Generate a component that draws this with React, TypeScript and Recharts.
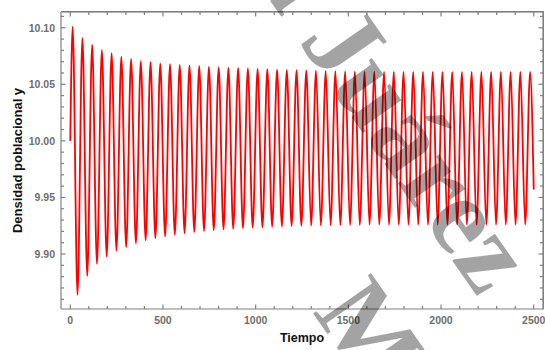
import React from 'react';
import { LineChart, Line, XAxis, YAxis } from 'recharts';

// ---- data (extrema of the oscillation) ----
const startTime = 0;
const startValue = 10.0;
const endTime = 2500;
const endValue = 9.957;

const peakTimes = [
  13, 65.5, 118, 170.5, 223, 275.5, 328, 380.5, 433, 485.5, 538, 590.5, 643, 695.5, 748, 800.5,
  853, 905.5, 958, 1010.5, 1063, 1115.5, 1168, 1220.5, 1273, 1325.5, 1378, 1430.5, 1483, 1535.5,
  1588, 1640.5, 1693, 1745.5, 1798, 1850.5, 1903, 1955.5, 2008, 2060.5, 2113, 2165.5, 2218,
  2270.5, 2323, 2375.5, 2428, 2480.5,
];
const peakValues = [
  10.101, 10.091, 10.085, 10.0805, 10.0775, 10.0745, 10.0725, 10.0705, 10.0695, 10.0685, 10.0678,
  10.0672, 10.0667, 10.0662, 10.0657, 10.0652, 10.0648, 10.0644, 10.064, 10.0636, 10.0633, 10.063,
  10.0627, 10.0624, 10.0622, 10.062, 10.0618, 10.0616, 10.0614, 10.0613, 10.0612, 10.0611,
  10.061, 10.061, 10.061, 10.061, 10.061, 10.061, 10.061, 10.061, 10.061, 10.061, 10.061, 10.061,
  10.061, 10.061, 10.061, 10.061,
];
const troughTimes = [
  39, 91.5, 144, 196.5, 249, 301.5, 354, 406.5, 459, 511.5, 564, 616.5, 669, 721.5, 774, 826.5,
  879, 931.5, 984, 1036.5, 1089, 1141.5, 1194, 1246.5, 1299, 1351.5, 1404, 1456.5, 1509, 1561.5,
  1614, 1666.5, 1719, 1771.5, 1824, 1876.5, 1929, 1981.5, 2034, 2086.5, 2139, 2191.5, 2244,
  2296.5, 2349, 2401.5, 2454,
];
const troughValues = [
  9.8638, 9.8806, 9.8912, 9.8977, 9.903, 9.906, 9.9095, 9.9122, 9.914, 9.9155, 9.917, 9.9183,
  9.9195, 9.9203, 9.921, 9.9217, 9.9222, 9.9227, 9.9232, 9.9236, 9.924, 9.9243, 9.9246, 9.9249,
  9.9251, 9.9253, 9.9255, 9.9256, 9.9257, 9.9258, 9.9259,
  9.926, 9.926, 9.926, 9.926, 9.926, 9.926, 9.926, 9.926, 9.926, 9.926, 9.926, 9.926, 9.926,
  9.926, 9.926, 9.926,
];

// ---- ticks ----
const xMajorTicks = [0, 500, 1000, 1500, 2000, 2500];
const xTickLabels = ['0', '500', '1000', '1500', '2000', '2500'];
const xMinorTicks = [
  100, 200, 300, 400, 600, 700, 800, 900, 1100, 1200, 1300, 1400, 1600, 1700, 1800, 1900, 2100,
  2200, 2300, 2400,
];
const yMajorTicks = [9.9, 9.95, 10.0, 10.05, 10.1];
const yTickLabels = ['9.90', '9.95', '10.00', '10.05', '10.10'];
const yMinorTicks = [
  9.86, 9.87, 9.88, 9.89, 9.91, 9.92, 9.93, 9.94, 9.96, 9.97, 9.98, 9.99, 10.01, 10.02, 10.03,
  10.04, 10.06, 10.07, 10.08, 10.09, 10.11,
];

const xTitle = 'Tiempo';
const yTitle = 'Densidad poblacional y';
const watermarkLine1 = 'Ciudad Juárez';
const watermarkLine2 = 'México';

// build the table for the chart
const points: { t: number; y: number }[] = [{ t: startTime, y: startValue }];
peakTimes.forEach((t, i) => points.push({ t, y: peakValues[i] }));
troughTimes.forEach((t, i) => points.push({ t, y: troughValues[i] }));
points.push({ t: endTime, y: endValue });
points.sort((a, b) => a.t - b.t);

const xTicksAll = [...xMajorTicks, ...xMinorTicks].sort((a, b) => a - b);
const yTicksAll = [...yMajorTicks, ...yMinorTicks].sort((a, b) => a - b);

const W = 545;
const H = 350;
const Y_AXIS_W = 61;
const X_AXIS_H = 41;
const MARGIN = { top: 12, right: 2, bottom: 0, left: 0 };
const PLOT_LEFT = MARGIN.left + Y_AXIS_W;
const PLOT_TOP = MARGIN.top;
const PLOT_RIGHT = W - MARGIN.right;
const PLOT_BOTTOM = H - MARGIN.bottom - X_AXIS_H;

const FRAME = '#808080';
const TICK_TEXT = '#6e6e6e';
const SANS = '"Liberation Sans", Arial, sans-serif';
const SERIF = '"Liberation Serif", "Times New Roman", serif';

const majorIdx = (arr: number[], v: number) => arr.findIndex((m) => Math.abs(m - v) < 1e-6);

// bottom axis tick: inward mark at bottom + matching mark on the top frame edge
const BottomTick = (props: any) => {
  const { x, y, payload } = props;
  const i = majorIdx(xMajorTicks, payload.value);
  const len = i >= 0 ? 4.5 : 3;
  return (
    <g>
      <rect x={x - 0.6} y={y - len} width={1.2} height={len} fill={FRAME} />
      <rect x={x - 0.6} y={PLOT_TOP} width={1.2} height={len} fill={FRAME} />
      {i >= 0 && (
        <text x={x} y={y + 14.5} textAnchor="middle" fontFamily={SANS} fontWeight="bold" fontSize={10.5} fill={TICK_TEXT}>
          {xTickLabels[i]}
        </text>
      )}
    </g>
  );
};
// left axis tick: inward mark at left + matching mark on the right frame edge
const LeftTick = (props: any) => {
  const { x, y, payload } = props;
  const i = majorIdx(yMajorTicks, payload.value);
  const len = i >= 0 ? 4.5 : 3;
  return (
    <g>
      <rect x={x} y={y - 0.6} width={len} height={1.2} fill={FRAME} />
      <rect x={PLOT_RIGHT - len} y={y - 0.6} width={len} height={1.2} fill={FRAME} />
      {i >= 0 && (
        <text x={x - 6} y={y + 3.8} textAnchor="end" fontFamily={SANS} fontWeight="bold" fontSize={10.5} fill={TICK_TEXT}>
          {yTickLabels[i]}
        </text>
      )}
    </g>
  );
};

const XTitle = (props: any) => {
  const vb = props.viewBox || {};
  return (
    <text x={vb.x + vb.width / 2} y={vb.y + 32.5} textAnchor="middle" fontFamily={SANS} fontWeight="bold" fontSize={12.5} fill="#111">
      {xTitle}
    </text>
  );
};
const YTitle = (props: any) => {
  const vb = props.viewBox || {};
  const cx = 22;
  const cy = vb.y + vb.height / 2;
  return (
    <text x={cx} y={cy} transform={`rotate(-90 ${cx} ${cy})`} textAnchor="middle" fontFamily={SANS} fontWeight="bold" fontSize={13} fill="#111">
      {yTitle}
    </text>
  );
};

export default function App() {
  const xDomain: [number, number] = [-50, 2550];
  const yDomain: [number, number] = [9.8514, 10.1139];
  return (
    <div style={{ position: 'absolute', left: 0, top: 0, width: W, height: H, background: '#fff' }}>
      <div
        style={{
          position: 'absolute',
          left: PLOT_LEFT,
          top: PLOT_TOP - 0.6,
          width: PLOT_RIGHT - PLOT_LEFT + 0.6,
          height: PLOT_BOTTOM - PLOT_TOP + 0.6,
          borderTop: `1.2px solid ${FRAME}`,
          borderRight: `1.2px solid ${FRAME}`,
          boxSizing: 'border-box',
        }}
      />
      <LineChart width={W} height={H} data={points} margin={MARGIN}>
        <XAxis
          dataKey="t"
          type="number"
          domain={xDomain}
          allowDataOverflow
          ticks={xTicksAll}
          interval={0}
          height={X_AXIS_H}
          tickSize={0}
          tickMargin={0}
          tickLine={false}
          axisLine={{ stroke: FRAME, strokeWidth: 1.2 }}
          tick={BottomTick}
          label={<XTitle />}
        />
        <YAxis
          type="number"
          domain={yDomain}
          allowDataOverflow
          ticks={yTicksAll}
          interval={0}
          width={Y_AXIS_W}
          tickSize={0}
          tickMargin={0}
          tickLine={false}
          axisLine={{ stroke: FRAME, strokeWidth: 1.2 }}
          tick={LeftTick}
          label={<YTitle />}
        />
        <Line
          type="monotone"
          dataKey="y"
          stroke="#ff0000"
          strokeWidth={1.8}
          dot={false}
          activeDot={false}
          isAnimationActive={false}
        />
      </LineChart>
      <svg width={W} height={H} style={{ position: 'absolute', left: 0, top: 0, pointerEvents: 'none' }}>
        <rect x={PLOT_LEFT} y={PLOT_TOP - 0.6} width={PLOT_RIGHT - PLOT_LEFT} height={1.2} fill={FRAME} />
        <rect x={PLOT_RIGHT - 0.6} y={PLOT_TOP - 0.6} width={1.2} height={PLOT_BOTTOM - PLOT_TOP + 1.2} fill={FRAME} />
        <text
          x={479}
          y={299}
          transform="rotate(55 479 299)"
          textAnchor="end"
          fontFamily={SERIF}
          fontWeight="bold"
          fontSize={110}
          fill="#000"
          fillOpacity={0.36}
        >
          {watermarkLine1}
        </text>
        <text
          x={312}
          y={312}
          transform="rotate(55 312 312)"
          textAnchor="start"
          fontFamily={SERIF}
          fontWeight="bold"
          fontSize={108}
          fill="#000"
          fillOpacity={0.36}
        >
          {watermarkLine2}
        </text>
      </svg>
    </div>
  );
}
